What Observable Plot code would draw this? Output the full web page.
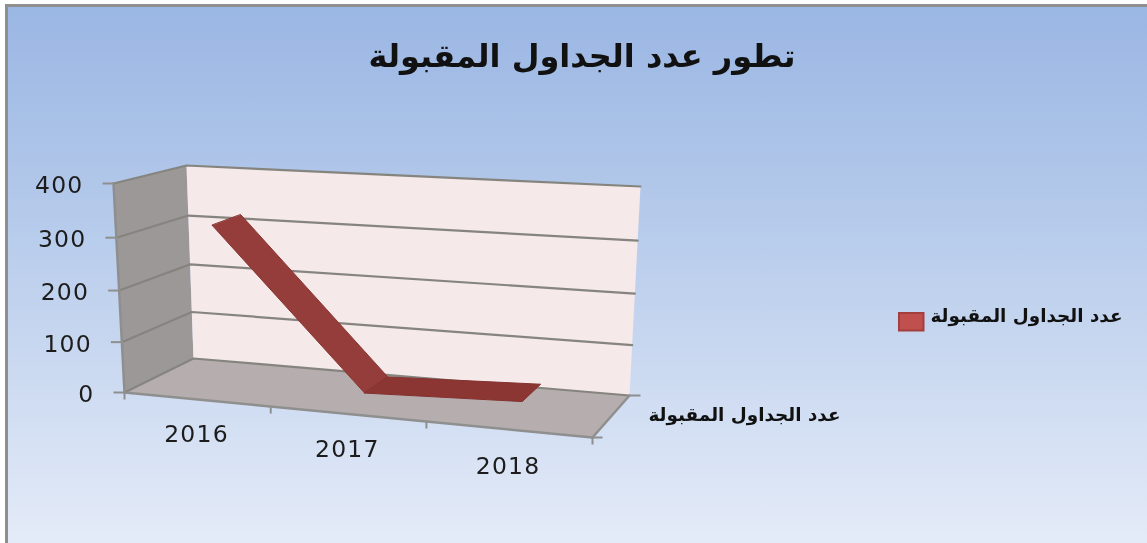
<!DOCTYPE html>
<html lang="ar">
<head>
<meta charset="utf-8">
<script src="https://cdn.jsdelivr.net/npm/d3@7"></script>
<script src="https://cdn.jsdelivr.net/npm/@observablehq/plot@0.6"></script>
<style>
  html, body { margin: 0; padding: 0; background: #fff; }
  #frame { position: absolute; left: 5px; top: 4px; width: 1142px; height: 539px; box-sizing: border-box;
    border-left: 3px solid #8f8f8f; border-top: 3px solid #8f8f8f;
    background: linear-gradient(to bottom, #9ab6e3 0%, #b2c8ea 35%, #c9d8f0 65%, #e4ebf8 100%); }
  #chart { position: absolute; left: 0; top: 0; }
  svg { display: block; background: transparent !important; filter: blur(0.4px); }
  .num text, text.num, .num { letter-spacing: 1.2px; }
</style>
</head>
<body>
<div id="frame"></div>
<div id="chart"></div>
<script>
// ---- Data ----
const chartTitle = "تطور عدد الجداول المقبولة";
const seriesName = "عدد الجداول المقبولة";
const years = ["2016", "2017", "2018"];
const accepted = [320, 16, 28];
const valueTicks = [0, 100, 200, 300, 400];
const valueMax = 400;

// ---- 3D box of the chart, as drawn by the spreadsheet (screen corners) ----
const boxBottom = { fl: [124, 392], fr: [592, 437], bl: [193, 358], br: [629, 395] };
const boxTop    = { fl: [113, 183], fr: [605, 228], bl: [186, 165], br: [640, 186] };
const perspective = 1.1;          // foreshortening along the category axis
const perspectiveV = 1.05;        // foreshortening along the value axis
const ribbonDepth = [0.33, 0.76]; // front and back edge of the ribbon

const lerp = (a, b, t) => a + (b - a) * t;
const lerp2 = (a, b, t) => [lerp(a[0], b[0], t), lerp(a[1], b[1], t)];
const warp = (t, k) => t / (t + k * (1 - t));
// category position c in [0, n], depth w in [0, 1], value v -> screen point
function project(c, w, v) {
  const f = warp(c / years.length, perspective);
  const bot = lerp2(lerp2(boxBottom.fl, boxBottom.fr, f), lerp2(boxBottom.bl, boxBottom.br, f), w);
  const top = lerp2(lerp2(boxTop.fl, boxTop.fr, f), lerp2(boxTop.bl, boxTop.br, f), w);
  return lerp2(bot, top, warp(v / valueMax, perspectiveV));
}
const n = years.length;

// Walls and floor
const poly = pts => pts.map(p => ({ x: p[0], y: p[1] }));
const floor = poly([project(0,0,0), project(n,0,0), project(n,1,0), project(0,1,0)]);
const side  = poly([project(0,0,0), project(0,1,0), project(0,1,valueMax), project(0,0,valueMax)]);
const back  = poly([project(0,1,0), project(n,1,0), project(n,1,valueMax), project(0,1,valueMax)]);

// Gridlines follow the side wall, then the back wall
const grid = valueTicks.flatMap(v => [
  { id: v, p: project(0,0,v) }, { id: v, p: project(0,1,v) }, { id: v, p: project(n,1,v) }
]).map(d => ({ id: d.id, x: d.p[0], y: d.p[1] }));
const valueAxisLine = poly([project(0,0,0), project(0,0,valueMax)]);
const floorEdges = [
  { id: "front", a: project(0,0,0), b: project(n,0,0) },
  { id: "right", a: project(n,0,0), b: project(n,1,0) }
].flatMap(e => [{ id: e.id, x: e.a[0], y: e.a[1] }, { id: e.id, x: e.b[0], y: e.b[1] }]);

// Tick marks
const tick = (a, dx, dy) => ({ x1: a[0], y1: a[1], x2: a[0] + dx, y2: a[1] + dy });
const valueTickMarks = valueTicks.map(v => tick(project(0,0,v), -11, 0));
const catTickMarks = d3.range(0, n + 1).map(c => tick(project(c,0,0), 0, 7));
const depthTickMarks = [tick(project(n,1,0), 11, 0), tick(project(n,0,0), 10, 0)];

// Ribbon: two segments between consecutive years
const ribbon = i => [i, i + 1].map(k => {
  const a = project(k + 0.5, ribbonDepth[0], accepted[k]);
  const b = project(k + 0.5, ribbonDepth[1], accepted[k]);
  return { x1: a[0], y1: a[1], x2: b[0], y2: b[1] };
});

// Text
const valueLabels = valueTicks.map(v => {
  const p = project(0,0,v);
  return { label: String(v), x: p[0] - 30, y: p[1] + 2 };
});
const catLabels = years.map((y, i) => {
  const p = project(i + 0.5, 0, 0);
  return { label: y, x: p[0], y: p[1] + 35 + i };
});
const numFont = { fontFamily: "DejaVu Sans", fontSize: 23.5, fill: "#1c1c1c", className: "num" };
const arFont = { fontFamily: "DejaVu Sans", fontWeight: "bold", fill: "#111" };

const chart = Plot.plot({
  width: 1147, height: 543, margin: 0,
  x: { domain: [0, 1147], range: [0, 1147], axis: null },
  y: { domain: [0, 543], range: [0, 543], axis: null },
  style: { background: "transparent", overflow: "visible" },
  marks: [
    Plot.line(floor, { x: "x", y: "y", fill: "#b6aeae", stroke: "none" }),
    Plot.line(side,  { x: "x", y: "y", fill: "#9c9897", stroke: "none" }),
    Plot.line(back,  { x: "x", y: "y", fill: "#f5e9e9", stroke: "none" }),
    Plot.line(grid,  { x: "x", y: "y", z: "id", stroke: "#85847f", strokeWidth: 2.2 }),
    Plot.line(valueAxisLine, { x: "x", y: "y", stroke: "#8f8f8f", strokeWidth: 2.5 }),
    Plot.line(floorEdges, { x: "x", y: "y", z: "id", stroke: "#8f8f8f", strokeWidth: 2.5 }),
    Plot.link(valueTickMarks, { x1: "x1", y1: "y1", x2: "x2", y2: "y2", stroke: "#8f8f8f", strokeWidth: 2 }),
    Plot.link(catTickMarks, { x1: "x1", y1: "y1", x2: "x2", y2: "y2", stroke: "#8f8f8f", strokeWidth: 2 }),
    Plot.link(depthTickMarks, { x1: "x1", y1: "y1", x2: "x2", y2: "y2", stroke: "#8f8f8f", strokeWidth: 2 }),
    Plot.area(ribbon(0), { x1: "x1", y1: "y1", x2: "x2", y2: "y2", fill: "#953d3a", stroke: "#8a3532", strokeWidth: 1 }),
    Plot.area(ribbon(1), { x1: "x1", y1: "y1", x2: "x2", y2: "y2", fill: "#8c3633", stroke: "#843230", strokeWidth: 1 }),
    Plot.text(valueLabels, { x: "x", y: "y", text: "label", textAnchor: "end", ...numFont }),
    Plot.text(catLabels, { x: "x", y: "y", text: "label", ...numFont }),
    Plot.text([chartTitle], { x: () => 581.5, y: () => 56, text: d => d, fontSize: 32, ...arFont }),
    Plot.text([seriesName], { x: () => 744, y: () => 415, text: d => d, fontSize: 18.4, ...arFont }),
    Plot.text([seriesName], { x: () => 1026, y: () => 316, text: d => d, fontSize: 18.4, ...arFont }),
    Plot.rect([seriesName], { x1: () => 899, x2: () => 923.5, y1: () => 313, y2: () => 330.5, fill: "#c0504d", stroke: "#a33f3c", strokeWidth: 2 })
  ]
});
document.getElementById("chart").appendChild(chart);
</script>
</body>
</html>
